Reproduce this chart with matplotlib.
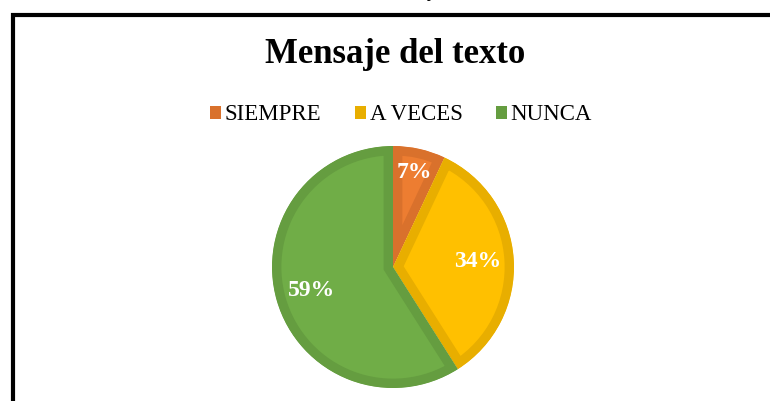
import matplotlib.pyplot as plt
import numpy as np
from matplotlib.patches import Rectangle, Patch

# datos
categorias = ['SIEMPRE', 'A VECES', 'NUNCA']
valores = [7, 34, 59]
titulo = 'Mensaje del texto'

# colores tipo Excel: relleno claro + borde interior oscuro
relleno = ['#ED7D31', '#FFC000', '#70AD47']
borde = ['#D9712C', '#E8AE00', '#659D40']

plt.rcParams['font.family'] = ['Liberation Serif', 'DejaVu Serif']

W, H = 770, 401
fig = plt.figure(figsize=(W / 100, H / 100), dpi=100)

# marco negro (sale por la derecha y por abajo)
fig.add_artist(Rectangle((13 / W, -0.2), 1.0, 1 - 15 / H + 0.2, transform=fig.transFigure,
                         fill=False, edgecolor='black', linewidth=3.0))

# resto de texto cortado arriba
fig.text(433 / W, 1 + 4 / H, 'y', ha='center', va='baseline', fontsize=15, style='italic')

fig.text(395 / W, 1 - 63 / H, titulo, ha='center', va='baseline',
         fontsize=25, fontweight='bold')

# pastel
cx, cy, r = 393, 267, 121
ax = fig.add_axes([(cx - r) / W, 1 - (cy + r) / H, 2 * r / W, 2 * r / H])
wedges = ax.pie(valores, colors=relleno, startangle=90, counterclock=False,
                radius=1.0)[0]
for w, c in zip(wedges, borde):
    w.set_edgecolor(c)
    w.set_linewidth(13.5)
    w.set_clip_on(True)
    w.set_clip_path(w)

# etiquetas de porcentaje
total = sum(valores)
acum = 0
for i, v in enumerate(valores):
    ang = np.deg2rad(90 - (acum + v / 2) / total * 360)
    acum += v
    d = 0.8 if v < 10 else 0.7
    ax.text(d * np.cos(ang), d * np.sin(ang), f'{v}%', ha='center', va='center',
            color='white', fontsize=17, fontweight='bold')

ax.set_xlim(-1, 1)
ax.set_ylim(-1, 1)
ax.set_aspect('equal')
ax.axis('off')

# leyenda
handles = [Patch(facecolor=c, edgecolor='none') for c in borde]
fig.legend(handles, categorias, loc='center', bbox_to_anchor=(401 / W, 1 - 115 / H),
           ncol=3, frameon=False, fontsize=16.5, handlelength=0.5, handleheight=0.5,
           handletextpad=0.15, columnspacing=1.45)

fig.savefig('out.png', dpi=100)
